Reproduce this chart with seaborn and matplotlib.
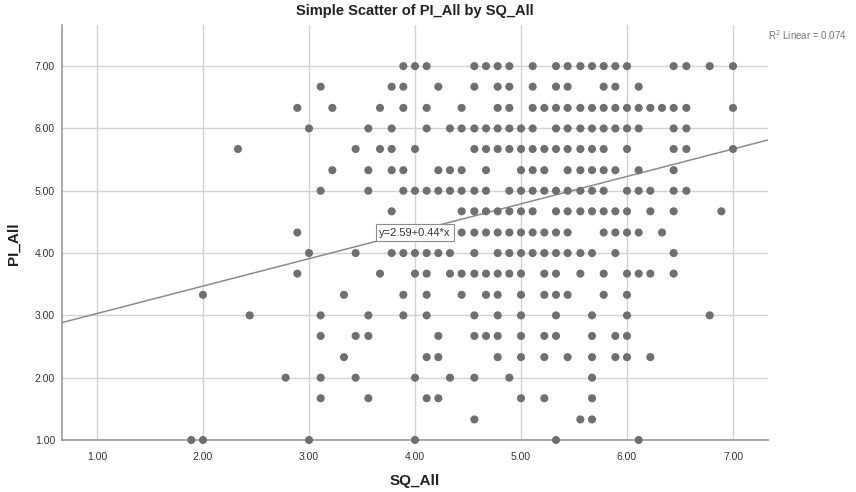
import matplotlib
matplotlib.use("Agg")
import matplotlib.pyplot as plt
import seaborn as sns
import pandas as pd

# PI_All levels and the SQ_All values observed at each level
sq_pi_7_00 = [3.89, 4.00, 4.11, 4.56, 4.67, 4.78, 4.89, 5.11, 5.33, 5.44, 5.56, 5.67, 5.78, 5.89, 6.00, 6.44, 6.56, 6.78, 7.00]
sq_pi_6_67 = [3.11, 3.78, 3.89, 4.22, 4.56, 4.78, 4.89, 5.11, 5.33, 5.44, 5.78, 5.89, 6.11]
sq_pi_6_33 = [2.89, 3.22, 3.67, 3.89, 4.11, 4.44, 4.78, 4.89, 5.11, 5.22, 5.33, 5.44, 5.56, 5.67, 5.78, 5.89, 6.00, 6.11, 6.22, 6.33, 6.44, 6.56, 7.00]
sq_pi_6_00 = [3.00, 3.56, 3.78, 4.11, 4.33, 4.44, 4.56, 4.67, 4.78, 4.89, 5.00, 5.11, 5.33, 5.44, 5.56, 5.67, 5.78, 5.89, 6.00, 6.11, 6.44, 6.56]
sq_pi_5_67 = [2.33, 3.44, 3.67, 3.78, 4.00, 4.56, 4.67, 4.78, 4.89, 5.00, 5.11, 5.22, 5.33, 5.44, 5.56, 5.67, 5.78, 6.00, 6.44, 6.56, 7.00]
sq_pi_5_33 = [3.22, 3.56, 3.78, 3.89, 4.22, 4.33, 4.44, 4.67, 5.00, 5.11, 5.22, 5.44, 5.56, 5.67, 5.78, 5.89, 6.11, 6.44]
sq_pi_5_00 = [3.11, 3.56, 3.89, 4.00, 4.11, 4.22, 4.33, 4.44, 4.56, 4.67, 4.89, 5.00, 5.11, 5.22, 5.33, 5.44, 5.56, 5.67, 5.78, 6.00, 6.11, 6.22, 6.44, 6.56]
sq_pi_4_67 = [3.78, 4.44, 4.56, 4.67, 4.78, 4.89, 5.00, 5.11, 5.33, 5.44, 5.56, 5.67, 5.78, 5.89, 6.00, 6.22, 6.44, 6.89]
sq_pi_4_33 = [2.89, 4.44, 4.56, 4.67, 4.78, 4.89, 5.00, 5.11, 5.22, 5.33, 5.44, 5.78, 5.89, 6.00, 6.11, 6.33]
sq_pi_4_00 = [3.00, 3.44, 3.78, 3.89, 4.00, 4.11, 4.22, 4.33, 4.56, 4.78, 4.89, 5.00, 5.11, 5.22, 5.33, 5.44, 5.56, 5.67, 5.89, 6.44]
sq_pi_3_67 = [2.89, 3.67, 4.00, 4.11, 4.33, 4.44, 4.56, 4.67, 4.78, 4.89, 5.00, 5.22, 5.33, 5.56, 5.78, 6.00, 6.11, 6.22, 6.44]
sq_pi_3_33 = [2.00, 3.33, 3.89, 4.11, 4.44, 4.67, 4.78, 5.00, 5.22, 5.33, 5.44, 5.78, 6.00]
sq_pi_3_00 = [2.44, 3.11, 3.56, 3.89, 4.11, 4.56, 4.78, 5.00, 5.33, 5.67, 6.00, 6.78]
sq_pi_2_67 = [3.11, 3.44, 3.56, 4.22, 4.56, 4.67, 4.78, 5.00, 5.22, 5.33, 5.67, 5.89, 6.00]
sq_pi_2_33 = [3.33, 4.11, 4.22, 4.78, 5.00, 5.22, 5.44, 5.67, 5.89, 6.00, 6.22]
sq_pi_2_00 = [2.78, 3.11, 3.44, 4.00, 4.33, 4.56, 4.89, 5.67]
sq_pi_1_67 = [3.11, 3.56, 4.11, 4.22, 5.00, 5.22, 5.67]
sq_pi_1_33 = [4.56, 5.56, 5.67]
sq_pi_1_00 = [1.89, 2.00, 3.00, 4.00, 5.33, 6.11]

pi_levels = [7.00, 6.67, 6.33, 6.00, 5.67, 5.33, 5.00, 4.67, 4.33, 4.00,
             3.67, 3.33, 3.00, 2.67, 2.33, 2.00, 1.67, 1.33, 1.00]
sq_rows = [sq_pi_7_00, sq_pi_6_67, sq_pi_6_33, sq_pi_6_00, sq_pi_5_67, sq_pi_5_33,
           sq_pi_5_00, sq_pi_4_67, sq_pi_4_33, sq_pi_4_00, sq_pi_3_67, sq_pi_3_33,
           sq_pi_3_00, sq_pi_2_67, sq_pi_2_33, sq_pi_2_00, sq_pi_1_67, sq_pi_1_33,
           sq_pi_1_00]

# Fit line as reported
fit_intercept = 2.59
fit_slope = 0.44
r_squared = 0.074

x_ticks = [1.0, 2.0, 3.0, 4.0, 5.0, 6.0, 7.0]
y_ticks = [1.0, 2.0, 3.0, 4.0, 5.0, 6.0, 7.0]

records = []
for lvl, row in zip(pi_levels, sq_rows):
    for v in row:
        records.append({"SQ_All": v, "PI_All": lvl})
df = pd.DataFrame(records)

sns.set_theme(style="white")
plt.rcParams["font.family"] = ["Liberation Sans", "DejaVu Sans"]

fig = plt.figure(figsize=(8.56, 4.92), dpi=100)
ax = fig.add_axes([62 / 856, 1 - 440 / 492, (768 - 62) / 856, (440 - 25) / 492])

ax.set_xlim(0.67, 7.33)
ax.set_ylim(1.0, 7.66)

ax.set_xticks(x_ticks)
ax.set_yticks(y_ticks)
ax.set_xticklabels([f"{t:.2f}" for t in x_ticks], fontsize=7.5, color="#333333")
ax.set_yticklabels([f"{t:.2f}" for t in y_ticks], fontsize=7.5, color="#333333")
ax.tick_params(axis="x", length=0, pad=9)
ax.tick_params(axis="y", length=0, pad=5)
ax.grid(True, color="#d2d2d2", linewidth=1.0)
ax.set_axisbelow(True)

for side in ["top", "right"]:
    ax.spines[side].set_visible(False)
for side in ["left", "bottom"]:
    ax.spines[side].set_color("#9a9a9a")
    ax.spines[side].set_linewidth(1.2)

sns.scatterplot(data=df, x="SQ_All", y="PI_All", ax=ax, color="#6f6f6f",
                s=34, edgecolor="none", clip_on=False, zorder=3)

ax.axline((0, fit_intercept), slope=fit_slope, color="#8c8c8c", linewidth=1.1, zorder=2)

ax.text(4.0, 4.33, f"y={fit_intercept:.2f}+{fit_slope:.2f}*x", ha="center", va="center",
        fontsize=8, color="#333333", zorder=5,
        bbox=dict(boxstyle="square,pad=0.3", facecolor="white", edgecolor="#8c8c8c", linewidth=0.8))

fig.text(768 / 856, 1 - 35 / 492, f"R$^2$ Linear = {r_squared:.3f}", ha="left", va="center",
         fontsize=7, color="#777777")

fig.text(415 / 856, 1 - 11 / 492, "Simple Scatter of PI_All by SQ_All", ha="center", va="center",
         fontsize=10.5, fontweight="bold", color="#222222")
ax.set_xlabel("")
ax.set_ylabel("")
fig.text(415 / 856, 1 - 481 / 492, "SQ_All", ha="center", va="center",
         fontsize=11, fontweight="bold", color="#222222")
fig.text(14 / 856, 1 - 244 / 492, "PI_All", ha="center", va="center", rotation=90,
         fontsize=11, fontweight="bold", color="#222222")

fig.savefig("out.png", dpi=100)
